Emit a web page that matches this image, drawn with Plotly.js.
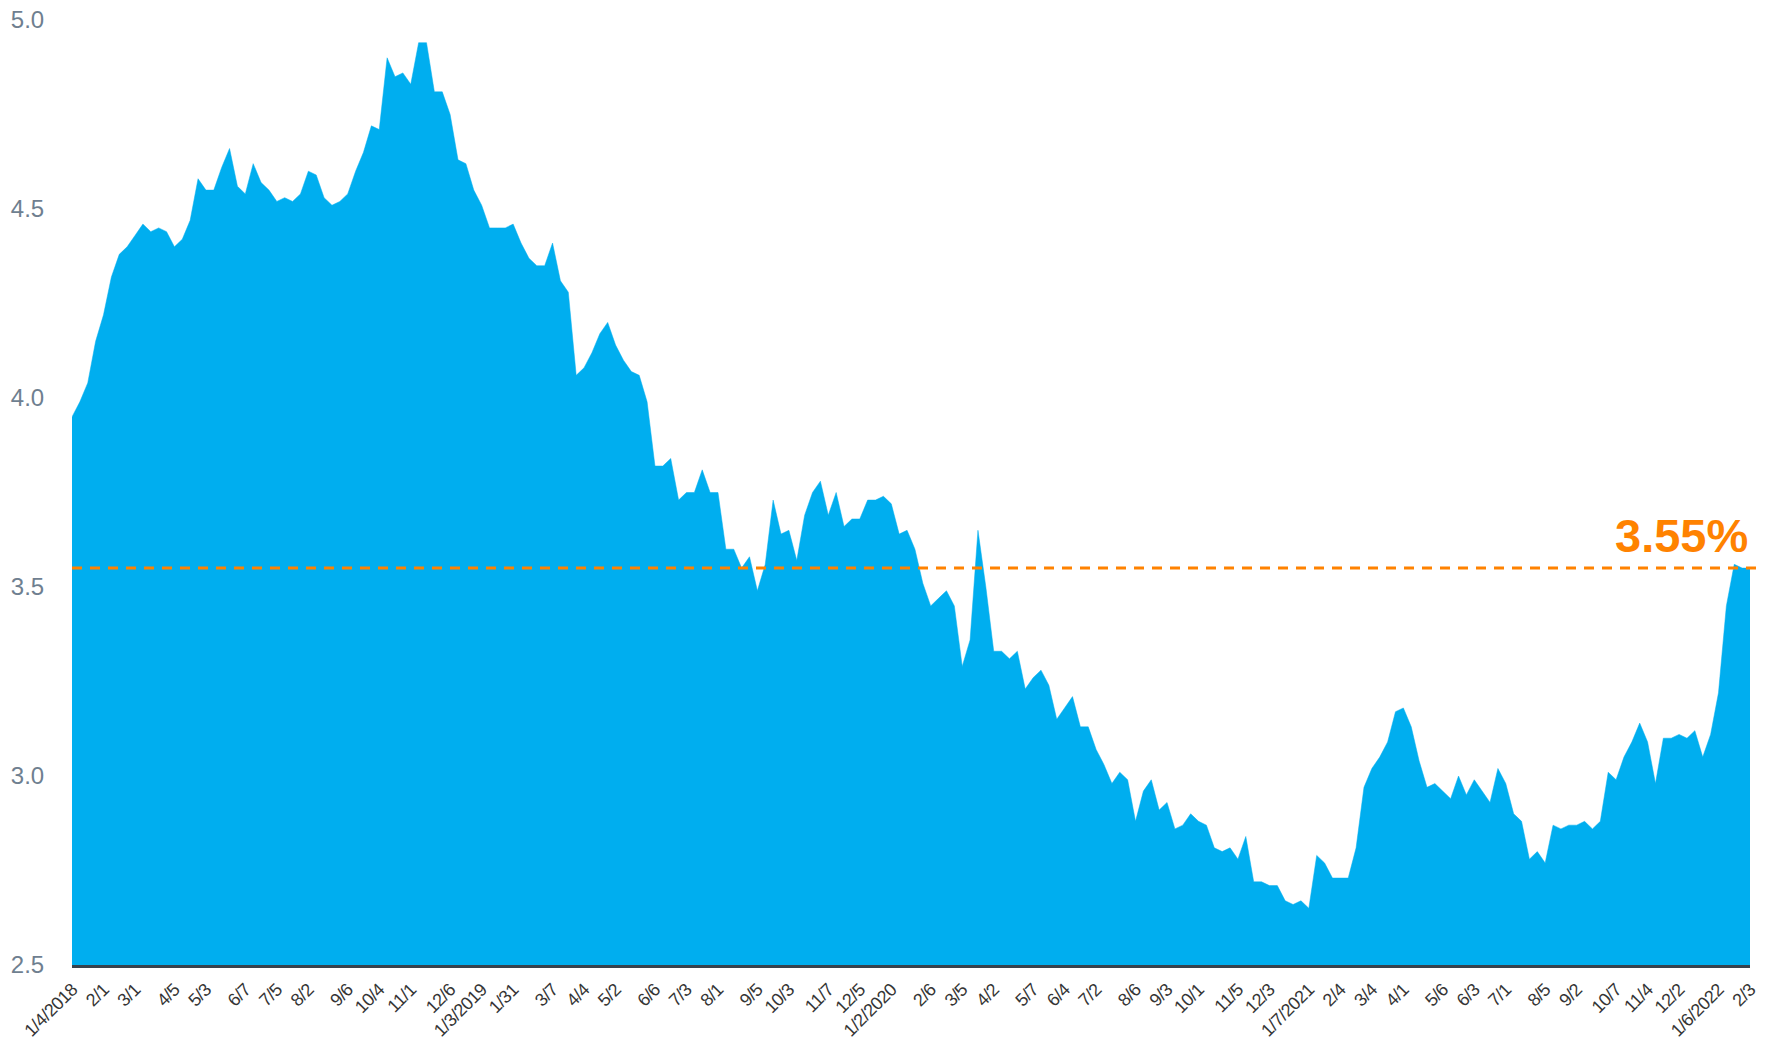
<!DOCTYPE html>
<html>
<head>
<meta charset="utf-8">
<script src="https://cdn.plot.ly/plotly-3.0.1.min.js"></script>
<style>
  html, body { margin: 0; padding: 0; background: #ffffff; }
  #chart { width: 1771px; height: 1040px; }
  #chart .xtick text { letter-spacing: -0.5px; }
</style>
</head>
<body>
<div id="chart"></div>
<script>
// Weekly release dates (category labels)
const weeks2018 = ["1/4/2018","1/11/2018","1/18/2018","1/25/2018","2/1/2018","2/8/2018","2/15/2018","2/22/2018","3/1/2018","3/8/2018","3/15/2018","3/22/2018","3/29/2018","4/5/2018","4/12/2018","4/19/2018","4/26/2018","5/3/2018","5/10/2018","5/17/2018","5/24/2018","5/31/2018","6/7/2018","6/14/2018","6/21/2018","6/28/2018","7/5/2018","7/12/2018","7/19/2018","7/26/2018","8/2/2018","8/9/2018","8/16/2018","8/23/2018","8/30/2018","9/6/2018","9/13/2018","9/20/2018","9/27/2018","10/4/2018","10/11/2018","10/18/2018","10/25/2018","11/1/2018","11/8/2018","11/15/2018","11/21/2018","11/29/2018","12/6/2018","12/13/2018","12/20/2018","12/27/2018"];
const weeks2019 = ["1/3/2019","1/10/2019","1/17/2019","1/24/2019","1/31/2019","2/7/2019","2/14/2019","2/21/2019","2/28/2019","3/7/2019","3/14/2019","3/21/2019","3/28/2019","4/4/2019","4/11/2019","4/18/2019","4/25/2019","5/2/2019","5/9/2019","5/16/2019","5/23/2019","5/30/2019","6/6/2019","6/13/2019","6/20/2019","6/27/2019","7/3/2019","7/11/2019","7/18/2019","7/25/2019","8/1/2019","8/8/2019","8/15/2019","8/22/2019","8/29/2019","9/5/2019","9/12/2019","9/19/2019","9/26/2019","10/3/2019","10/10/2019","10/17/2019","10/24/2019","10/31/2019","11/7/2019","11/14/2019","11/21/2019","11/27/2019","12/5/2019","12/12/2019","12/19/2019","12/26/2019"];
const weeks2020 = ["1/2/2020","1/9/2020","1/16/2020","1/23/2020","1/30/2020","2/6/2020","2/13/2020","2/20/2020","2/27/2020","3/5/2020","3/12/2020","3/19/2020","3/26/2020","4/2/2020","4/9/2020","4/16/2020","4/23/2020","4/30/2020","5/7/2020","5/14/2020","5/21/2020","5/28/2020","6/4/2020","6/11/2020","6/18/2020","6/25/2020","7/2/2020","7/9/2020","7/16/2020","7/23/2020","7/30/2020","8/6/2020","8/13/2020","8/20/2020","8/27/2020","9/3/2020","9/10/2020","9/17/2020","9/24/2020","10/1/2020","10/8/2020","10/15/2020","10/22/2020","10/29/2020","11/5/2020","11/12/2020","11/19/2020","11/25/2020","12/3/2020","12/10/2020","12/17/2020","12/24/2020","12/31/2020"];
const weeks2021 = ["1/7/2021","1/14/2021","1/21/2021","1/28/2021","2/4/2021","2/11/2021","2/18/2021","2/25/2021","3/4/2021","3/11/2021","3/18/2021","3/25/2021","4/1/2021","4/8/2021","4/15/2021","4/22/2021","4/29/2021","5/6/2021","5/13/2021","5/20/2021","5/27/2021","6/3/2021","6/10/2021","6/17/2021","6/24/2021","7/1/2021","7/8/2021","7/15/2021","7/22/2021","7/29/2021","8/5/2021","8/12/2021","8/19/2021","8/26/2021","9/2/2021","9/9/2021","9/16/2021","9/23/2021","9/30/2021","10/7/2021","10/14/2021","10/21/2021","10/28/2021","11/4/2021","11/10/2021","11/18/2021","11/24/2021","12/2/2021","12/9/2021","12/16/2021","12/23/2021","12/30/2021"];
const weeks2022 = ["1/6/2022","1/13/2022","1/20/2022","1/27/2022","2/3/2022"];

// 30-year fixed mortgage rate (%)
const rates2018 = [3.95,3.99,4.04,4.15,4.22,4.32,4.38,4.40,4.43,4.46,4.44,4.45,4.44,4.40,4.42,4.47,4.58,4.55,4.55,4.61,4.66,4.56,4.54,4.62,4.57,4.55,4.52,4.53,4.52,4.54,4.60,4.59,4.53,4.51,4.52,4.54,4.60,4.65,4.72,4.71,4.90,4.85,4.86,4.83,4.94,4.94,4.81,4.81,4.75,4.63,4.62,4.55];
const rates2019 = [4.51,4.45,4.45,4.45,4.46,4.41,4.37,4.35,4.35,4.41,4.31,4.28,4.06,4.08,4.12,4.17,4.20,4.14,4.10,4.07,4.06,3.99,3.82,3.82,3.84,3.73,3.75,3.75,3.81,3.75,3.75,3.60,3.60,3.55,3.58,3.49,3.56,3.73,3.64,3.65,3.57,3.69,3.75,3.78,3.69,3.75,3.66,3.68,3.68,3.73,3.73,3.74];
const rates2020 = [3.72,3.64,3.65,3.60,3.51,3.45,3.47,3.49,3.45,3.29,3.36,3.65,3.50,3.33,3.33,3.31,3.33,3.23,3.26,3.28,3.24,3.15,3.18,3.21,3.13,3.13,3.07,3.03,2.98,3.01,2.99,2.88,2.96,2.99,2.91,2.93,2.86,2.87,2.90,2.88,2.87,2.81,2.80,2.81,2.78,2.84,2.72,2.72,2.71,2.71,2.67,2.66,2.67];
const rates2021 = [2.65,2.79,2.77,2.73,2.73,2.73,2.81,2.97,3.02,3.05,3.09,3.17,3.18,3.13,3.04,2.97,2.98,2.96,2.94,3.00,2.95,2.99,2.96,2.93,3.02,2.98,2.90,2.88,2.78,2.80,2.77,2.87,2.86,2.87,2.87,2.88,2.86,2.88,3.01,2.99,3.05,3.09,3.14,3.09,2.98,3.10,3.10,3.11,3.10,3.12,3.05,3.11];
const rates2022 = [3.22,3.45,3.56,3.55,3.55];

// Tick positions and labels
const tickDates = ["1/4/2018","2/1/2018","3/1/2018","4/5/2018","5/3/2018","6/7/2018","7/5/2018","8/2/2018","9/6/2018","10/4/2018","11/1/2018","12/6/2018","1/3/2019","1/31/2019","3/7/2019","4/4/2019","5/2/2019","6/6/2019","7/3/2019","8/1/2019","9/5/2019","10/3/2019","11/7/2019","12/5/2019","1/2/2020","2/6/2020","3/5/2020","4/2/2020","5/7/2020","6/4/2020","7/2/2020","8/6/2020","9/3/2020","10/1/2020","11/5/2020","12/3/2020","1/7/2021","2/4/2021","3/4/2021","4/1/2021","5/6/2021","6/3/2021","7/1/2021","8/5/2021","9/2/2021","10/7/2021","11/4/2021","12/2/2021","1/6/2022","2/3/2022"];
const tickLabels = ["1/4/2018","2/1","3/1","4/5","5/3","6/7","7/5","8/2","9/6","10/4","11/1","12/6","1/3/2019","1/31","3/7","4/4","5/2","6/6","7/3","8/1","9/5","10/3","11/7","12/5","1/2/2020","2/6","3/5","4/2","5/7","6/4","7/2","8/6","9/3","10/1","11/5","12/3","1/7/2021","2/4","3/4","4/1","5/6","6/3","7/1","8/5","9/2","10/7","11/4","12/2","1/6/2022","2/3"];
const yTicks = [2.5, 3.0, 3.5, 4.0, 4.5, 5.0];
const yTickLabels = ["2.5","3.0","3.5","4.0","4.5","5.0"];

const currentRate = 3.55;
const currentLabel = "3.55%";

const dates = weeks2018.concat(weeks2019, weeks2020, weeks2021, weeks2022);
const rates = rates2018.concat(rates2019, rates2020, rates2021, rates2022);

const FONT = "'Liberation Sans', Arial, sans-serif";
const ORANGE = "#ff8200";

const trace = {
  type: "scatter",
  mode: "lines",
  x: dates,
  y: rates,
  fill: "tozeroy",
  fillcolor: "#00aeef",
  line: { color: "#00aeef", width: 0.5 },
  hoverinfo: "skip"
};

const layout = {
  width: 1771,
  height: 1040,
  margin: { l: 72, r: 21, t: 20, b: 75, pad: 0 },
  paper_bgcolor: "#ffffff",
  plot_bgcolor: "#ffffff",
  showlegend: false,
  font: { family: FONT },
  xaxis: {
    type: "category",
    categoryorder: "array",
    categoryarray: dates,
    range: [0, dates.length - 1],
    tickmode: "array",
    tickvals: tickDates,
    ticktext: tickLabels,
    tickangle: -45,
    tickfont: { family: FONT, size: 18, color: "#353535" },
    ticks: "outside",
    ticklen: 4,
    tickcolor: "rgba(0,0,0,0)",
    showgrid: false,
    zeroline: false,
    showline: true,
    linecolor: "#37424d",
    linewidth: 3,
    fixedrange: true
  },
  yaxis: {
    range: [2.5, 5.0],
    tickmode: "array",
    tickvals: yTicks,
    ticktext: yTickLabels,
    tickfont: { family: FONT, size: 24, color: "#6f7f90" },
    ticks: "outside",
    ticklen: 22,
    tickcolor: "rgba(0,0,0,0)",
    showgrid: false,
    zeroline: false,
    showline: false,
    fixedrange: true
  },
  shapes: [{
    type: "line",
    xref: "paper",
    yref: "y",
    x0: 0,
    x1: 1.006,
    y0: currentRate,
    y1: currentRate,
    line: { color: ORANGE, width: 3, dash: "10px,8px" },
    layer: "above"
  }],
  annotations: [{
    xref: "paper",
    yref: "y",
    x: 1,
    y: currentRate,
    xanchor: "right",
    yanchor: "bottom",
    yshift: 4,
    showarrow: false,
    text: "<b>" + currentLabel + "</b>",
    font: { family: FONT, size: 47, color: ORANGE }
  }]
};

Plotly.newPlot("chart", [trace], layout, { staticPlot: true, displayModeBar: false });
</script>
</body>
</html>
